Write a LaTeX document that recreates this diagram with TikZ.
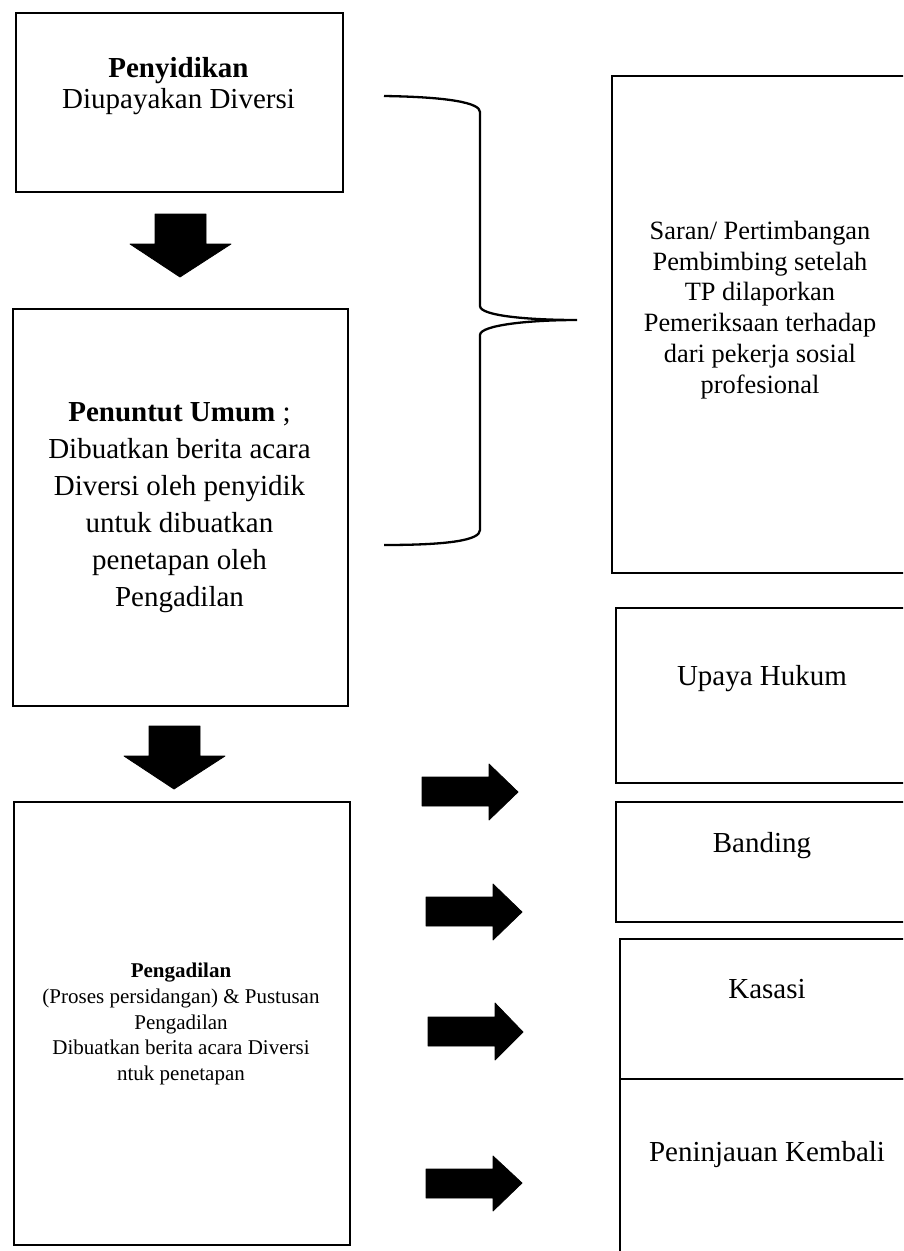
\documentclass[tikz,border=0pt]{standalone}
\usepackage{fontspec}
\setmainfont{Liberation Serif}
\begin{document}
\begin{tikzpicture}[x=1pt,y=-1pt,
  box/.style={draw=black,line width=1.8pt,rectangle,inner sep=0pt,anchor=north west},
  blk/.style={fill=black,draw=black,line width=0.8pt,line join=round},
  txt/.style={align=center,inner sep=0pt}]
\useasboundingbox (0,0) rectangle (903,1251);
\clip (0,0) rectangle (903,1251);
\fill[white] (0,0) rectangle (903,1251);

% left boxes
\node[box,minimum width=327,minimum height=179] (b1) at (15,12) {};
\node[box,minimum width=335,minimum height=397] (b2) at (12,308) {};
\node[box,minimum width=336,minimum height=443] (b3) at (13,801) {};

% right boxes
\node[box,minimum width=298,minimum height=497] (saran) at (611,75) {};
\node[box,minimum width=294,minimum height=175] (upaya) at (615,607) {};
\node[box,minimum width=294,minimum height=120] (banding) at (615,801) {};
\node[box,minimum width=290,minimum height=140] (kasasi) at (619,938) {};
\node[box,minimum width=290,minimum height=190] (pk) at (619,1078) {};

% texts
\node[txt,font=\fontsize{29}{31}\selectfont] (t1) at (178.5,86) {\textbf{Penyidikan}\\Diupayakan Diversi};
\node[txt,font=\fontsize{29}{37}\selectfont] (t2) at (179.5,508) {\textbf{Penuntut Umum} ;\\Dibuatkan berita acara\\Diversi oleh penyidik\\untuk dibuatkan\\penetapan oleh\\Pengadilan};
\node[txt,font=\fontsize{21}{25.8}\selectfont] (t3) at (181,1024) {\textbf{Pengadilan}\\(Proses persidangan) \& Pustusan\\Pengadilan\\Dibuatkan berita acara Diversi\\ntuk penetapan};
\node[txt,font=\fontsize{26.4}{30.8}\selectfont] (t4) at (760,310) {Saran/ Pertimbangan\\Pembimbing setelah\\TP dilaporkan\\Pemeriksaan terhadap\\dari pekerja sosial\\profesional};
\node[txt,font=\fontsize{29}{34}\selectfont,anchor=base] (t5) at (762,685) {Upaya Hukum};
\node[txt,font=\fontsize{29}{34}\selectfont,anchor=base] (t6) at (762,852) {Banding};
\node[txt,font=\fontsize{29}{34}\selectfont,anchor=base] (t7) at (767,998) {Kasasi};
\node[txt,font=\fontsize{29}{34}\selectfont,anchor=base] (t8) at (767,1161) {Peninjauan Kembali};

% down arrows
\filldraw[blk] (155,214)--(206,214)--(206,244)--(231,244)--(180,277)--(130,244)--(155,244)--cycle;
\filldraw[blk] (149,726)--(200,726)--(200,756)--(225,756)--(174,789)--(124,756)--(149,756)--cycle;

% right arrows
\filldraw[blk] (422,777)--(489,777)--(489,764)--(518,792)--(489,820)--(489,806)--(422,806)--cycle;
\filldraw[blk] (426,897)--(493,897)--(493,884)--(522,912)--(493,940)--(493,926)--(426,926)--cycle;
\filldraw[blk] (428,1017)--(495,1017)--(495,1003)--(523,1032)--(495,1060)--(495,1046)--(428,1046)--cycle;
\filldraw[blk] (426,1169)--(493,1169)--(493,1156)--(522,1183)--(493,1211)--(493,1198)--(426,1198)--cycle;

% brace
\coordinate (bs) at (384,96);
\coordinate (btip) at (577,320);
\coordinate (be) at (384,545);
\draw[line width=2.3pt] (bs) .. controls (450,97) and (480,103) .. (480,112) -- (480,306)
  .. controls (480,316) and (530,320) .. (btip)
  .. controls (530,320) and (480,325) .. (480,335) -- (480,530)
  .. controls (480,540) and (450,545) .. (be);
\end{tikzpicture}
\end{document}
